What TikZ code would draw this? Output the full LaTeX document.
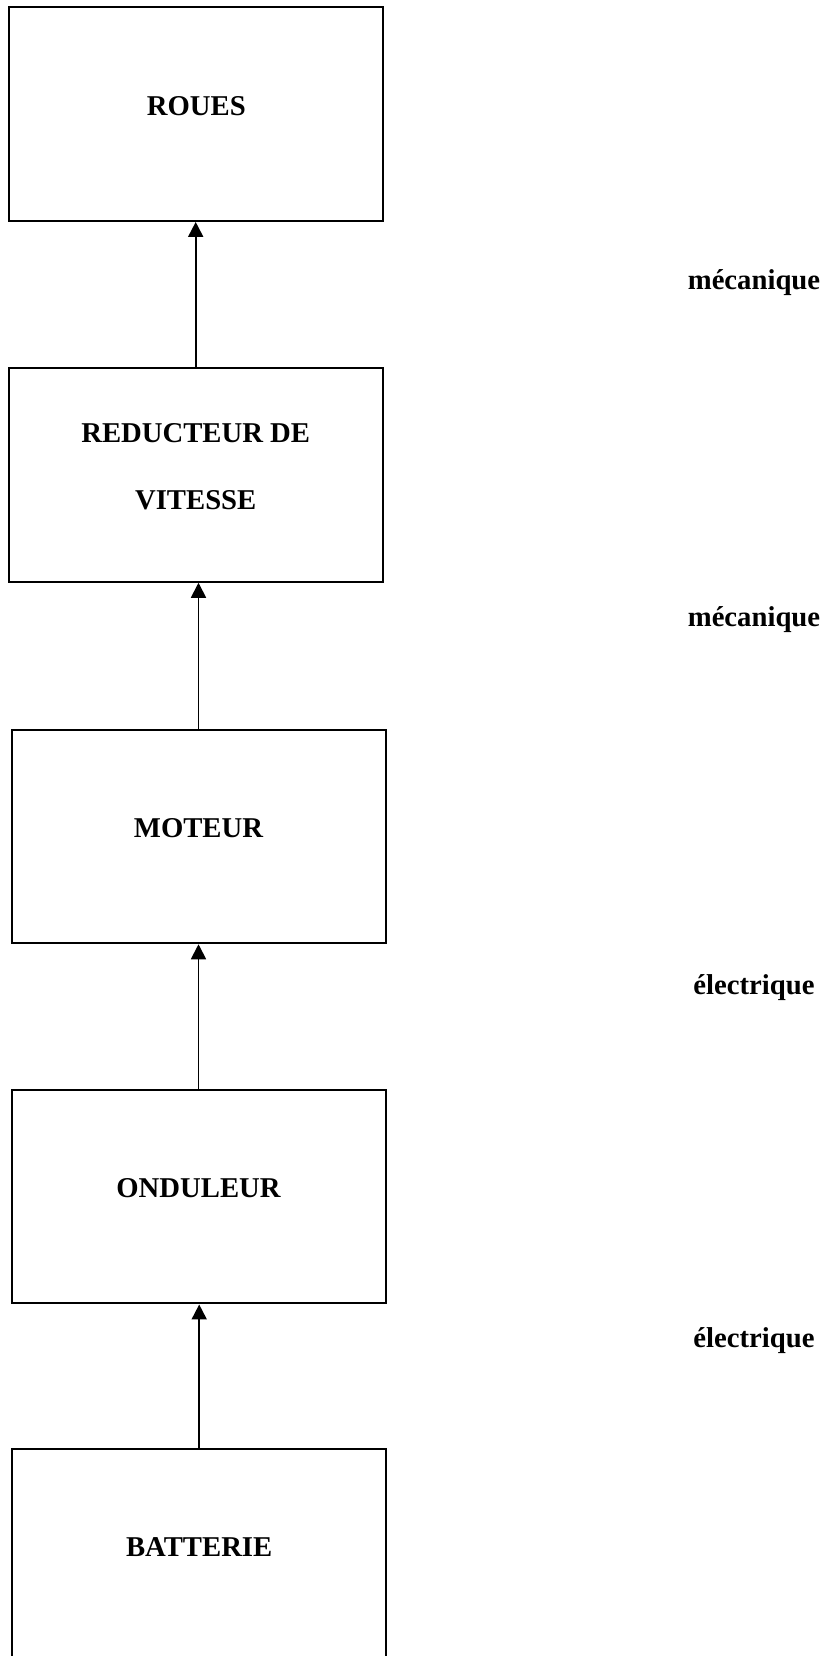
\documentclass[tikz,border=0pt]{standalone}
\usepackage{fontspec}
\setmainfont{Liberation Serif}
\usetikzlibrary{positioning}
\usetikzlibrary{arrows.meta}

\begin{document}
\begin{tikzpicture}[
      x=1pt, y=-1pt, >={Triangle[length=15pt, width=15pt]},
      bloc/.style={draw, line width=2pt, minimum width=374pt, minimum height=213.5pt,
        inner sep=0pt, align=center, text depth=17pt},
      every node/.style={font=\bfseries\fontsize{28.7}{67}\selectfont}]

      \useasboundingbox (0,0) rectangle (827,1656);

      % boxes
      \node[bloc] (roues) at (196.3, 114.2) {ROUES};
      \node[bloc] (reducteur) at (195.7, 475) {REDUCTEUR DE\\VITESSE};
      \node[bloc] (moteur) at (198.5, 836.5) {MOTEUR};
      \node[bloc] (onduleur) at (198.5, 1196.7) {ONDULEUR};
      \node[bloc] (batterie) at (199.2, 1555.7) {BATTERIE};
      % arrows
      \foreach \a/\b in {reducteur/roues, moteur/reducteur, onduleur/moteur, batterie/onduleur}{
        \draw[->, line width=1.8pt] (\a.north) -- (\a.north |- \b.south);
      }
      % energy labels
      \node (meca1) at (754, 283) {mécanique};
      \node (meca2) at (754, 620) {mécanique};
      \node (elec1) at (754, 988) {électrique};
      \node (elec2) at (754, 1341) {électrique};
    \end{tikzpicture}
\end{document}
